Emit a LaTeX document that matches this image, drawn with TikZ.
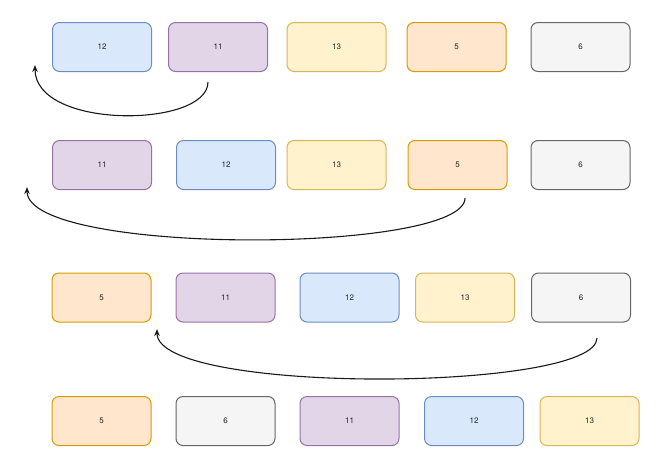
\documentclass[tikz,border=0pt]{standalone}
\usepackage{fontspec}
\setmainfont{TeX Gyre Heros}
\usetikzlibrary{arrows.meta}

% draw.io palette
\definecolor{bluefill}{HTML}{DAE8FC}\definecolor{bluedraw}{HTML}{6C8EBF}
\definecolor{purpfill}{HTML}{E1D5E7}\definecolor{purpdraw}{HTML}{9673A6}
\definecolor{yellfill}{HTML}{FFF2CC}\definecolor{yelldraw}{HTML}{D6B656}
\definecolor{orngfill}{HTML}{FFE6CC}\definecolor{orngdraw}{HTML}{D79B00}
\definecolor{grayfill}{HTML}{F5F5F5}\definecolor{graydraw}{HTML}{666666}
\definecolor{txt}{HTML}{222222}

\tikzset{
  card/.style={rectangle, rounded corners=7pt, line width=1pt,
    minimum width=99pt, minimum height=49pt, inner sep=0pt,
    font=\fontsize{8}{9}\selectfont, text=txt},
  cblue/.style={card, fill=bluefill, draw=bluedraw},
  cpurp/.style={card, fill=purpfill, draw=purpdraw},
  cyell/.style={card, fill=yellfill, draw=yelldraw},
  corng/.style={card, fill=orngfill, draw=orngdraw},
  cgray/.style={card, fill=grayfill, draw=graydraw},
  move/.style={line width=1.1pt, draw=black!90, -{Stealth[length=7pt,width=5.5pt]}}
}

\begin{document}
\begin{tikzpicture}[x=1pt,y=-1pt]
\useasboundingbox (0,0) rectangle (668,463);

% pass 0
\node[cblue] (a1) at (102,47) {12};
\node[cpurp] (a2) at (218,47) {11};
\node[cyell] (a3) at (336.5,47) {13};
\node[corng] (a4) at (456.5,47) {5};
\node[cgray] (a5) at (580.5,47) {6};

% pass 1
\node[cpurp] (b1) at (102,165) {11};
\node[cblue] (b2) at (226,165) {12};
\node[cyell] (b3) at (336.5,165) {13};
\node[corng] (b4) at (457.5,165) {5};
\node[cgray] (b5) at (580.5,165) {6};

% pass 2
\node[corng] (c1) at (101.5,297.5) {5};
\node[cpurp] (c2) at (225.5,297.5) {11};
\node[cblue] (c3) at (349.5,297.5) {12};
\node[cyell] (c4) at (465,297.5) {13};
\node[cgray] (c5) at (581,297.5) {6};

% pass 3
\node[corng] (d1) at (101.5,421) {5};
\node[cgray] (d2) at (225.5,421) {6};
\node[cpurp] (d3) at (349.5,421) {11};
\node[cblue] (d4) at (474,421) {12};
\node[cyell] (d5) at (589.5,421) {13};

% insertion moves
\coordinate (m1s) at (208,82);  \coordinate (m1e) at (35,65);
\coordinate (m2s) at (465,198); \coordinate (m2e) at (27,187);
\coordinate (m3s) at (597,338); \coordinate (m3e) at (157,329);

\draw[move] (m1s) .. controls (208,128) and (35,130) .. (m1e);
\draw[move] (m2s) .. controls (465,254) and (27,256) .. (m2e);
\draw[move] (m3s) .. controls (597,392) and (157,395) .. (m3e);
\end{tikzpicture}
\end{document}
